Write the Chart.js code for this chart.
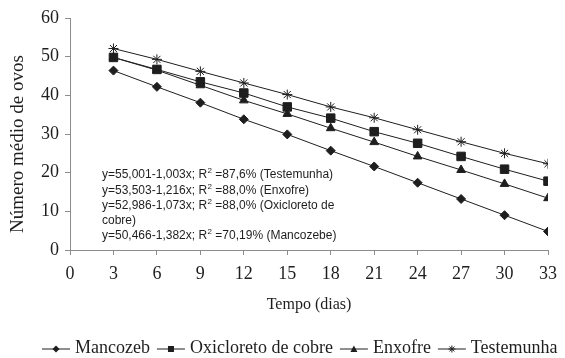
<!DOCTYPE html>
<html>
<head>
<meta charset="utf-8">
<script src="https://cdn.jsdelivr.net/npm/chart.js@4/dist/chart.umd.min.js"></script>
<style>
  html, body { margin: 0; padding: 0; background: #fff; }
  canvas { display: block; }
</style>
</head>
<body>
<canvas id="ovosChart" width="565" height="358"></canvas>
<script>
// dias de avaliação
const dias = [3, 6, 9, 12, 15, 18, 21, 24, 27, 30, 33];

// número médio de ovos por tratamento
const mancozeb   = [46.4, 42.2, 38.1, 33.8, 29.9, 25.7, 21.6, 17.4, 13.2, 9.0, 4.8];
const oxicloreto = [49.8, 46.7, 43.5, 40.6, 37.0, 34.1, 30.6, 27.6, 24.2, 20.9, 17.8];
const enxofre    = [49.8, 46.5, 42.6, 38.7, 35.2, 31.5, 27.9, 24.2, 20.7, 17.1, 13.4];
const testemunha = [52.1, 49.3, 46.2, 43.2, 40.2, 37.0, 34.2, 31.1, 28.0, 25.0, 22.3];

const seriesNames = ['Mancozeb', 'Oxicloreto de cobre', 'Enxofre', 'Testemunha'];

const equacoes = [
  ['y=55,001-1,003x; R', '2', ' =87,6% (Testemunha)'],
  ['y=53,503-1,216x; R', '2', ' =88,0% (Enxofre)'],
  ['y=52,986-1,073x; R', '2', ' =88,0% (Oxicloreto de'],
  ['cobre)', '', ''],
  ['y=50,466-1,382x; R', '2', ' =70,19% (Mancozebe)']
];

const INK = '#1e1e1e';
const AXIS = '#8c8c8c';
const SERIF = '"Liberation Serif", "Times New Roman", serif';
const SANS = '"Liberation Sans", Arial, sans-serif';

function toPoints(values) {
  return dias.map((d, i) => ({ x: d, y: values[i] }));
}

function makeDataset(label, values, style, radius) {
  return {
    label: label,
    data: toPoints(values),
    borderColor: INK,
    backgroundColor: INK,
    borderWidth: 1,
    pointStyle: style,
    pointRadius: radius,
    pointBorderColor: INK,
    pointBackgroundColor: INK,
    pointBorderWidth: 1,
    tension: 0,
    fill: false
  };
}

// marcador pequeno para a legenda
function drawMarker(ctx, style, x, y) {
  ctx.beginPath();
  if (style === 'rectRot') {
    ctx.moveTo(x, y - 3.5); ctx.lineTo(x + 3.5, y); ctx.lineTo(x, y + 3.5); ctx.lineTo(x - 3.5, y);
    ctx.closePath(); ctx.fill();
  } else if (style === 'rect') {
    ctx.rect(x - 3, y - 3, 6, 6); ctx.fill();
  } else if (style === 'triangle') {
    ctx.moveTo(x, y - 3.5); ctx.lineTo(x + 3.5, y + 3); ctx.lineTo(x - 3.5, y + 3);
    ctx.closePath(); ctx.fill();
  } else if (style === 'star') {
    const r = 3.5;
    for (let k = 0; k < 4; k++) {
      const a = k * Math.PI / 4;
      ctx.moveTo(x - Math.cos(a) * r, y - Math.sin(a) * r);
      ctx.lineTo(x + Math.cos(a) * r, y + Math.sin(a) * r);
    }
    ctx.stroke();
  }
}

const extras = {
  id: 'extras',
  afterDraw(chart) {
    const ctx = chart.ctx;
    const area = chart.chartArea;
    ctx.save();
    ctx.fillStyle = INK;
    ctx.strokeStyle = INK;
    ctx.lineWidth = 1;

    // título do eixo y
    ctx.save();
    ctx.translate(23, 144);
    ctx.rotate(-Math.PI / 2);
    ctx.font = '19px ' + SERIF;
    ctx.textAlign = 'center';
    ctx.textBaseline = 'alphabetic';
    ctx.fillText('Número médio de ovos', 0, 0);
    ctx.restore();

    // título do eixo x
    ctx.font = '16px ' + SERIF;
    ctx.textAlign = 'center';
    ctx.textBaseline = 'middle';
    ctx.fillText('Tempo (dias)', (area.left + area.right) / 2, 305);

    // equações de regressão
    ctx.textAlign = 'left';
    const lineY = [175, 190.5, 206, 221, 236];
    equacoes.forEach((parts, i) => {
      let x = 102;
      const y = lineY[i];
      ctx.font = '12px ' + SANS;
      ctx.fillText(parts[0], x, y);
      x += ctx.measureText(parts[0]).width;
      if (parts[1]) {
        ctx.font = '8px ' + SANS;
        ctx.fillText(parts[1], x + 0.5, y - 4);
        x += ctx.measureText(parts[1]).width + 0.5;
        ctx.font = '12px ' + SANS;
        ctx.fillText(parts[2], x, y);
      }
    });

    // legenda
    ctx.font = '18px ' + SERIF;
    ctx.textBaseline = 'middle';
    const segW = 28;
    let lx = 42;
    const ly = 349;
    chart.data.datasets.forEach(ds => {
      ctx.beginPath();
      ctx.moveTo(lx, ly);
      ctx.lineTo(lx + segW, ly);
      ctx.stroke();
      drawMarker(ctx, ds.pointStyle, lx + segW / 2, ly);
      lx += segW + 5;
      ctx.fillText(ds.label, lx, ly - 1);
      lx += ctx.measureText(ds.label).width + 7;
    });

    ctx.restore();
  }
};

new Chart(document.getElementById('ovosChart'), {
  type: 'line',
  data: {
    datasets: [
      makeDataset(seriesNames[0], mancozeb, 'rectRot', 4.5),
      makeDataset(seriesNames[1], oxicloreto, 'rect', 6),
      makeDataset(seriesNames[2], enxofre, 'triangle', 5),
      makeDataset(seriesNames[3], testemunha, 'star', 5)
    ]
  },
  options: {
    responsive: false,
    devicePixelRatio: 1,
    animation: false,
    layout: { padding: { top: 18, right: 9, left: 0, bottom: 0 } },
    plugins: {
      legend: { display: false },
      tooltip: { enabled: false }
    },
    scales: {
      x: {
        type: 'linear',
        min: 0,
        max: 33,
        afterFit: s => { s.height = 108; },
        ticks: { stepSize: 3, padding: 8, color: INK, font: { family: SERIF, size: 18 } },
        grid: { drawOnChartArea: false, drawTicks: true, tickLength: 5, color: AXIS },
        border: { color: AXIS }
      },
      y: {
        min: 0,
        max: 60,
        afterFit: s => { s.width = 70; },
        ticks: { stepSize: 10, padding: 6, color: INK, font: { family: SERIF, size: 18 } },
        grid: { drawOnChartArea: false, drawTicks: true, tickLength: 5, color: AXIS },
        border: { color: AXIS }
      }
    }
  },
  plugins: [extras]
});
</script>
</body>
</html>
